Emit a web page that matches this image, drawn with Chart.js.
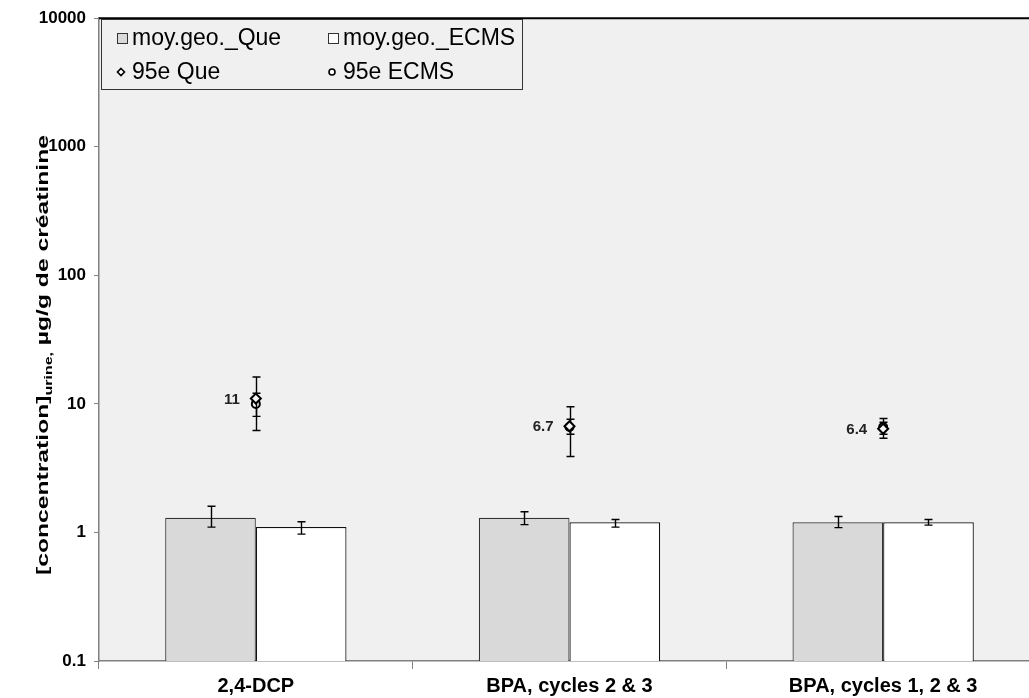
<!DOCTYPE html>
<html>
<head>
<meta charset="utf-8">
<script src="https://cdn.jsdelivr.net/npm/chart.js@4/dist/chart.umd.min.js"></script>
<style>
	html, body { margin: 0; padding: 0; background: #fff; overflow: hidden; }
	#wrap { width: 1047px; height: 698px; }
</style>
</head>
<body>
<div id="wrap"><canvas id="chart" width="1047" height="698"></canvas></div>
<script>
const categories = ["2,4-DCP", "BPA, cycles 2 & 3", "BPA, cycles 1, 2 & 3"];

// geometric means with their confidence bounds
const geoQue = [1.3, 1.3, 1.2];
const geoQueLow = [1.1, 1.15, 1.09];
const geoQueHigh = [1.6, 1.45, 1.33];
const geoEcms = [1.1, 1.2, 1.2];
const geoEcmsLow = [0.97, 1.1, 1.14];
const geoEcmsHigh = [1.21, 1.26, 1.26];

// 95th percentiles
const p95Que = [11, 6.7, 6.4];
const p95QueLow = [8.0, 3.9, 5.4];
const p95QueHigh = [16.2, 9.5, 7.7];
const p95Ecms = [10, 6.6, 6.6];
const p95EcmsLow = [6.2, 5.8, 5.8];
const p95EcmsHigh = [12.1, 7.6, 7.2];

const yTicks = [0.1, 1, 10, 100, 1000, 10000];

const theme = {
	plotBg: "#f0f0f0",
	axis: "#808080",
	que: "#d9d9d9",
	ecms: "#ffffff",
	font: "'Liberation Sans', Arial, sans-serif"
};

const errorBounds = [
	{ low: p95QueLow, high: p95QueHigh },
	{ low: p95EcmsLow, high: p95EcmsHigh },
	{ low: geoQueLow, high: geoQueHigh },
	{ low: geoEcmsLow, high: geoEcmsHigh }
];

function drawErrors(chart, index) {
	const bounds = errorBounds[index];
	if (!bounds) return;
	const ctx = chart.ctx;
	const y = chart.scales.y;
	const meta = chart.getDatasetMeta(index);
	ctx.save();
	ctx.strokeStyle = "#000";
	ctx.lineWidth = 1.4;
	meta.data.forEach((el, i) => {
		const x = Math.round(el.x) + 0.5;
		const top = y.getPixelForValue(bounds.high[i]);
		const bottom = y.getPixelForValue(bounds.low[i]);
		ctx.beginPath();
		ctx.moveTo(x, top);
		ctx.lineTo(x, bottom);
		ctx.moveTo(x - 4, top);
		ctx.lineTo(x + 4, top);
		ctx.moveTo(x - 4, bottom);
		ctx.lineTo(x + 4, bottom);
		ctx.stroke();
	});
	ctx.restore();
}

const errorBars = {
	id: "errorBars",
	beforeDatasetDraw(chart, args) {
		if (chart.data.datasets[args.index].type === "line") drawErrors(chart, args.index);
	},
	afterDatasetDraw(chart, args) {
		if (chart.data.datasets[args.index].type === "bar") drawErrors(chart, args.index);
	}
};

const plotFrame = {
	id: "plotFrame",
	beforeDraw(chart) {
		const { ctx, chartArea: a } = chart;
		ctx.save();
		ctx.fillStyle = theme.plotBg;
		ctx.fillRect(a.left, a.top, a.right - a.left, a.bottom - a.top);
		ctx.restore();
	},
	afterDraw(chart) {
		const { ctx, chartArea: a } = chart;
		ctx.save();
		ctx.strokeStyle = "#000";
		ctx.lineWidth = 2;
		ctx.beginPath();
		ctx.moveTo(a.left, a.top);
		ctx.lineTo(a.right, a.top);
		ctx.stroke();
		ctx.restore();
	}
};

// value labels next to the Que 95th percentile markers
const valueLabels = {
	id: "valueLabels",
	afterDatasetsDraw(chart) {
		const ctx = chart.ctx;
		const meta = chart.getDatasetMeta(0);
		ctx.save();
		ctx.font = "bold 15px " + theme.font;
		ctx.fillStyle = "#222";
		ctx.textAlign = "right";
		ctx.textBaseline = "middle";
		meta.data.forEach((el, i) => {
			ctx.fillText(String(p95Que[i]), el.x - 16, el.y + 1);
		});
		ctx.restore();
	}
};

// rotated axis title with a subscript, stretched along its length
const yTitle = {
	id: "yTitle",
	afterDraw(chart) {
		const ctx = chart.ctx;
		const main = "[concentration]";
		const sub = "urine,";
		const rest = " µg/g de créatinine";
		const mainFont = "bold 17px " + theme.font;
		const subFont = "bold 11px " + theme.font;
		const length = 440;
		ctx.save();
		ctx.font = mainFont;
		const w1 = ctx.measureText(main).width;
		const w3 = ctx.measureText(rest).width;
		ctx.font = subFont;
		const w2 = ctx.measureText(sub).width;
		const total = w1 + w2 + w3;
		ctx.translate(48, 355);
		ctx.rotate(-Math.PI / 2);
		ctx.scale(length / total, 1);
		ctx.fillStyle = "#000";
		ctx.textBaseline = "alphabetic";
		ctx.textAlign = "left";
		let x = -total / 2;
		ctx.font = mainFont;
		ctx.fillText(main, x, 0);
		x += w1;
		ctx.font = subFont;
		ctx.fillText(sub, x, 4);
		x += w2;
		ctx.font = mainFont;
		ctx.fillText(rest, x, 0);
		ctx.restore();
	}
};

const legendBox = {
	id: "legendBox",
	afterDraw(chart) {
		const ctx = chart.ctx;
		const ds = chart.data.datasets;
		ctx.save();
		ctx.fillStyle = theme.plotBg;
		ctx.fillRect(101, 19, 421, 70);
		ctx.strokeStyle = "#333";
		ctx.lineWidth = 1;
		ctx.strokeRect(101.5, 19.5, 421, 70);
		ctx.font = "23px " + theme.font;
		ctx.textBaseline = "middle";
		ctx.textAlign = "left";
		const items = [
			{ d: ds[2], x: 117, y: 38, kind: "box" },
			{ d: ds[3], x: 328, y: 38, kind: "box" },
			{ d: ds[0], x: 117, y: 72, kind: "point" },
			{ d: ds[1], x: 328, y: 72, kind: "point" }
		];
		items.forEach((it) => {
			ctx.lineWidth = 1;
			if (it.kind === "box") {
				ctx.fillStyle = it.d.backgroundColor;
				ctx.fillRect(it.x, it.y - 5, 10, 10);
				ctx.strokeStyle = "#333";
				ctx.strokeRect(it.x + 0.5, it.y - 4.5, 10, 10);
			} else {
				ctx.strokeStyle = "#000";
				ctx.lineWidth = 1.6;
				ctx.fillStyle = "#fff";
				ctx.beginPath();
				if (it.d.pointStyle === "rectRot") {
					ctx.moveTo(it.x + 4, it.y - 3.5);
					ctx.lineTo(it.x + 7.5, it.y);
					ctx.lineTo(it.x + 4, it.y + 3.5);
					ctx.lineTo(it.x + 0.5, it.y);
					ctx.closePath();
				} else {
					ctx.arc(it.x + 4, it.y, 3, 0, Math.PI * 2);
				}
				ctx.fill();
				ctx.stroke();
			}
			ctx.fillStyle = "#000";
			ctx.fillText(it.d.label, it.x + 15, it.y + 1);
		});
		ctx.restore();
	}
};

new Chart(document.getElementById("chart"), {
	data: {
		labels: categories,
		datasets: [
			{
				type: "line",
				label: "95e Que",
				data: p95Que,
				showLine: false,
				pointStyle: "rectRot",
				pointRadius: 5,
				pointBorderWidth: 2,
				pointBorderColor: "#000",
				pointBackgroundColor: "#f4f4f4"
			},
			{
				type: "line",
				label: "95e ECMS",
				data: p95Ecms,
				showLine: false,
				pointStyle: "circle",
				pointRadius: 4,
				pointBorderWidth: 2,
				pointBorderColor: "#000",
				pointBackgroundColor: "#f4f4f4"
			},
			{
				type: "bar",
				label: "moy.geo._Que",
				data: geoQue,
				backgroundColor: theme.que,
				borderColor: "#333",
				borderWidth: 1.2,
				categoryPercentage: 0.578,
				barPercentage: 1
			},
			{
				type: "bar",
				label: "moy.geo._ECMS",
				data: geoEcms,
				backgroundColor: theme.ecms,
				borderColor: "#111",
				borderWidth: 1.2,
				categoryPercentage: 0.578,
				barPercentage: 1
			}
		]
	},
	options: {
		responsive: false,
		animation: false,
		layout: { padding: { top: 16, right: 1, left: 0, bottom: 0 } },
		plugins: {
			legend: { display: false },
			tooltip: { enabled: false }
		},
		scales: {
			x: {
				afterFit(scale) { scale.height = 37; },
				grid: {
					offset: true,
					drawOnChartArea: false,
					tickLength: 8,
					color: theme.axis
				},
				border: { color: theme.axis, width: 1.5 },
				ticks: {
					color: "#000",
					padding: 5,
					maxRotation: 0,
					font: { family: theme.font, size: 20, weight: "bold" }
				}
			},
			y: {
				type: "logarithmic",
				min: 0.1,
				max: 10000,
				afterFit(scale) { scale.width = 99; },
				afterBuildTicks(scale) {
					scale.ticks = yTicks.map((v) => ({ value: v }));
				},
				grid: {
					drawOnChartArea: false,
					tickLength: 5,
					color: theme.axis
				},
				border: { color: theme.axis, width: 1.5 },
				ticks: {
					color: "#000",
					padding: 8,
					font: { family: theme.font, size: 17, weight: "bold" },
					callback: (value) => String(value)
				}
			}
		}
	},
	plugins: [plotFrame, errorBars, valueLabels, yTitle, legendBox]
});
</script>
</body>
</html>
